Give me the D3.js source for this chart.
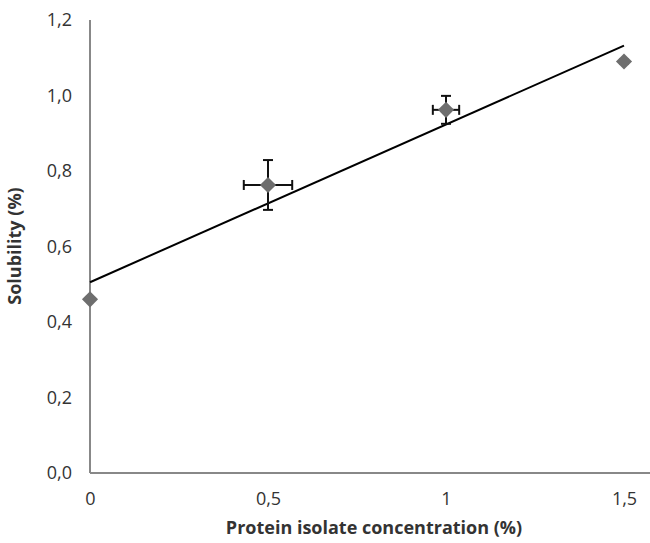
<!DOCTYPE html>
<html>
<head>
<meta charset="utf-8">
<script src="https://cdn.jsdelivr.net/npm/d3@7"></script>
<style>
  body { margin: 0; background: #fff; }
  svg { display: block; font-family: "Open Sans", "Noto Sans", sans-serif; }
</style>
</head>
<body>
<svg></svg>
<script>
// data
let concentration = [0, 0.5, 1, 1.5];
let solubility = [0.46, 0.763, 0.962, 1.09];
let yErr = [0, 0.066, 0.037, 0.005];
let xErr = [0, 0.068, 0.037, 0];
let yTicks = [0, 0.2, 0.4, 0.6, 0.8, 1.0, 1.2];
let xTicks = [0, 0.5, 1, 1.5];

let width = 650;
let height = 543;

let svg = d3.select("svg").attr("width", width).attr("height", height);

let xScale = d3.scaleLinear().domain([0, 1.5]).range([90, 624]);
let yScale = d3.scaleLinear().domain([0, 1.2]).range([473, 20]);

let fmt = (d, digits) => d.toFixed(digits).replace(".", ",");

// axes
let yAxis = d3.axisLeft(yScale).tickValues(yTicks).tickSize(0).tickPadding(18)
    .tickFormat(d => fmt(d, 1));
let gy = svg.append("g").attr("transform", "translate(90,0)").call(yAxis);

let xAxis = d3.axisBottom(xScale).tickValues(xTicks).tickSize(0).tickPadding(19)
    .tickFormat(d => d === 0 || d === 1 ? String(d) : fmt(d, 1));
let gx = svg.append("g").attr("transform", "translate(0,473)").call(xAxis);

gy.select(".domain").remove();
gx.select(".domain").remove();
svg.append("line").attr("x1", 90).attr("x2", 90).attr("y1", 20).attr("y2", 473)
    .attr("stroke", "#888").attr("stroke-width", 2);
svg.append("line").attr("x1", 90).attr("x2", 650).attr("y1", 473).attr("y2", 473)
    .attr("stroke", "#888").attr("stroke-width", 2);

// d3 puts font settings on the axis groups, so override them on the labels
svg.selectAll(".tick text")
    .style("font-family", "'Open Sans', sans-serif")
    .style("font-size", "18px")
    .attr("fill", "#333");

// linear trendline (least squares on the points)
let mx = d3.mean(concentration), my = d3.mean(solubility);
let sxy = d3.sum(concentration, (x, i) => (x - mx) * (solubility[i] - my));
let sxx = d3.sum(concentration, x => (x - mx) * (x - mx));
let slope = sxy / sxx;
let intercept = my - slope * mx;

svg.append("line")
    .attr("x1", xScale(0)).attr("y1", yScale(intercept))
    .attr("x2", xScale(1.5)).attr("y2", yScale(intercept + slope * 1.5))
    .attr("stroke", "#000").attr("stroke-width", 2);

// error bars
let eb = svg.append("g").attr("stroke", "#111").attr("stroke-width", 2);
concentration.forEach((x, i) => {
  let cx = xScale(x), cy = yScale(solubility[i]);
  if (yErr[i] > 0) {
    let y1 = yScale(solubility[i] + yErr[i]), y2 = yScale(solubility[i] - yErr[i]);
    eb.append("line").attr("x1", cx).attr("x2", cx).attr("y1", y1).attr("y2", y2);
    eb.append("line").attr("x1", cx - 5).attr("x2", cx + 5).attr("y1", y1).attr("y2", y1);
    eb.append("line").attr("x1", cx - 5).attr("x2", cx + 5).attr("y1", y2).attr("y2", y2);
  }
  if (xErr[i] > 0) {
    let x1 = xScale(x - xErr[i]), x2 = xScale(x + xErr[i]);
    eb.append("line").attr("x1", x1).attr("x2", x2).attr("y1", cy).attr("y2", cy);
    eb.append("line").attr("x1", x1).attr("x2", x1).attr("y1", cy - 5).attr("y2", cy + 5);
    eb.append("line").attr("x1", x2).attr("x2", x2).attr("y1", cy - 5).attr("y2", cy + 5);
  }
});

// diamond markers
svg.selectAll(".pt")
  .data(concentration)
  .enter()
  .append("path")
  .attr("class", "pt")
  .attr("d", d3.symbol().type(d3.symbolSquare).size(130))
  .attr("transform", (d, i) => "translate(" + xScale(d) + "," + yScale(solubility[i]) + ") rotate(45)")
  .attr("fill", "#6e6e6e");

// axis titles
svg.append("text")
    .attr("x", 374).attr("y", 534)
    .attr("text-anchor", "middle")
    .attr("font-size", 18).attr("font-weight", "bold").attr("fill", "#333")
    .text("Protein isolate concentration (%)");

svg.append("text")
    .attr("transform", "translate(21,246) rotate(-90)")
    .attr("text-anchor", "middle")
    .attr("font-size", 18).attr("font-weight", "bold").attr("fill", "#333")
    .text("Solubility (%)");
</script>
</body>
</html>
